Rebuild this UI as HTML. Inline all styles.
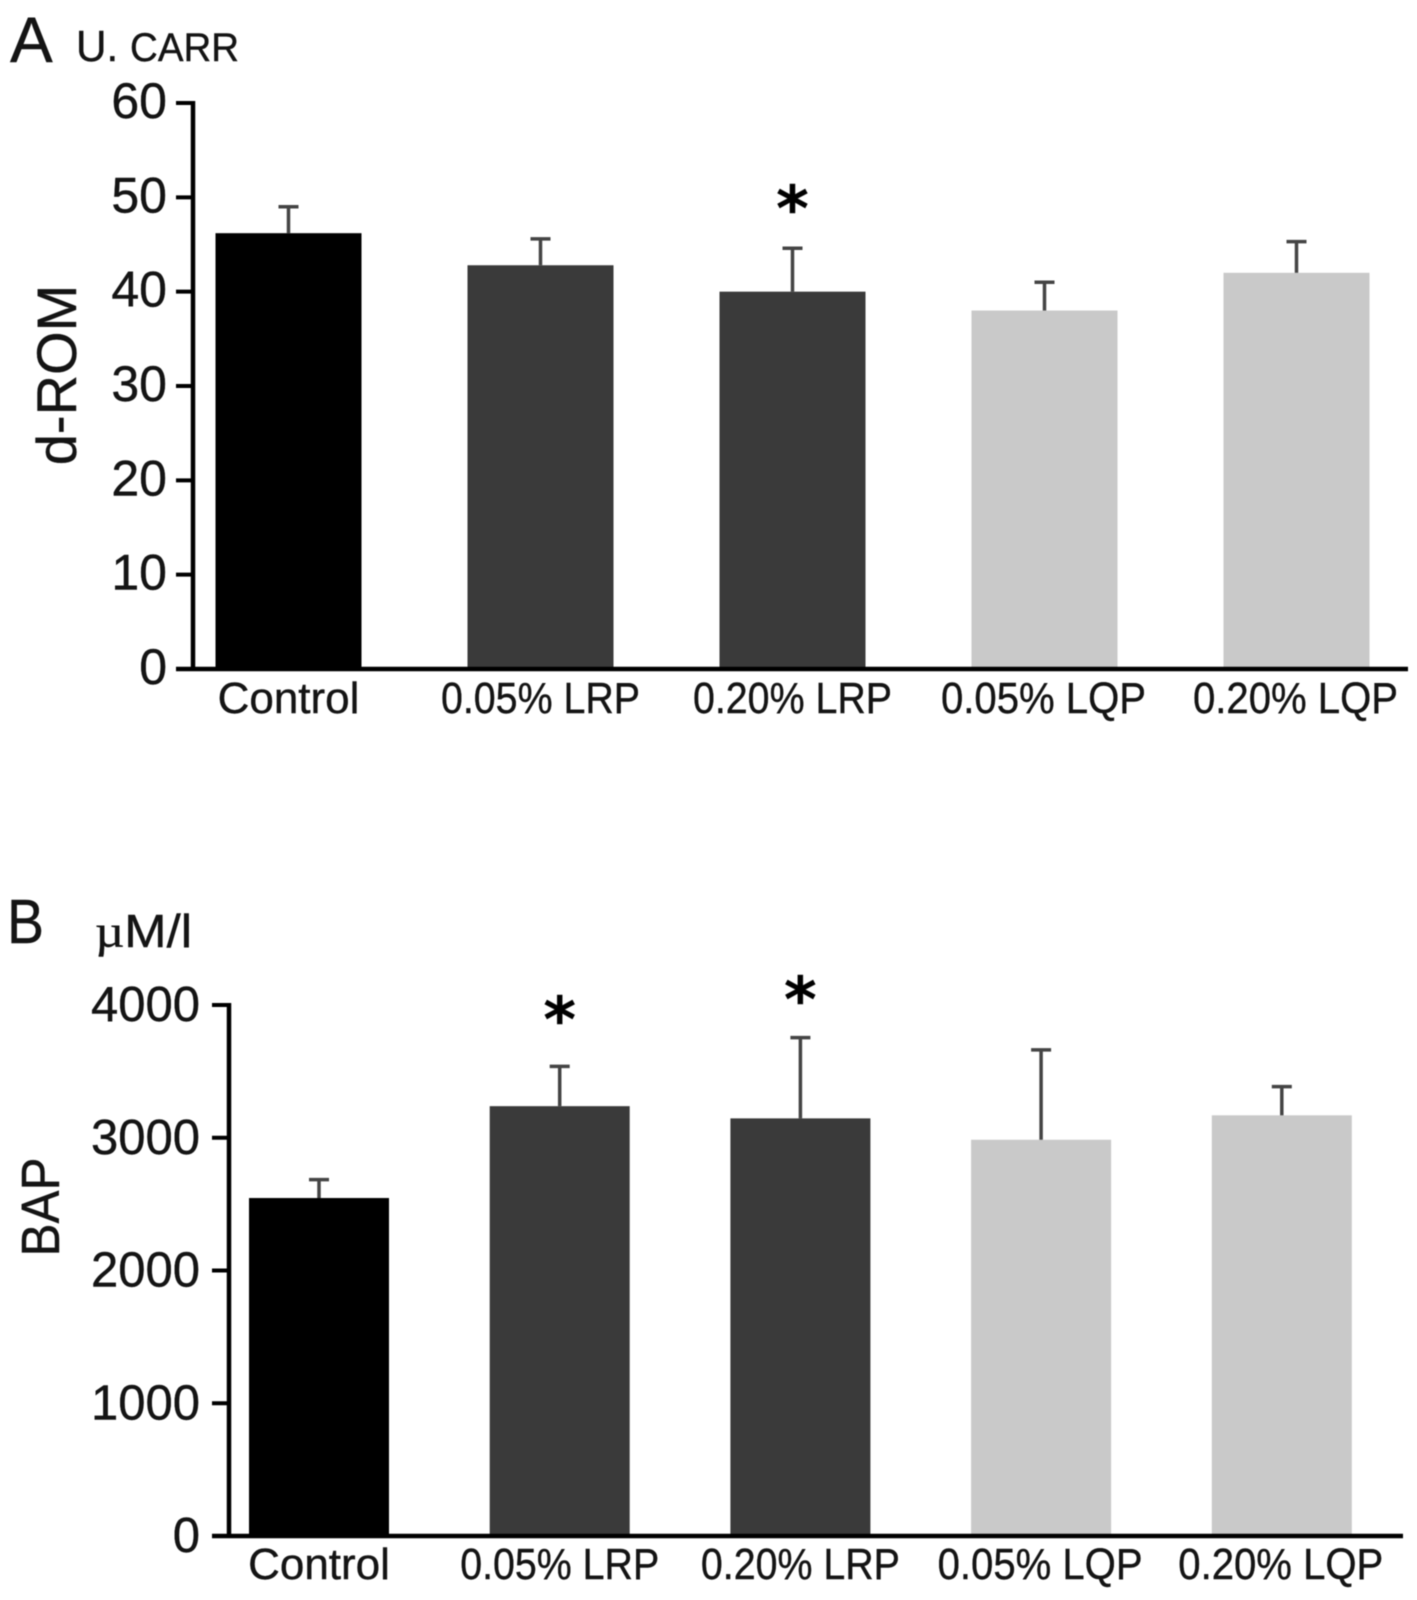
<!DOCTYPE html>
<html lang="en">
<head>
<meta charset="utf-8">
<title>d-ROM and BAP bar charts</title>
<style>
html,body{margin:0;padding:0;background:#fff;}
svg{display:block;filter:blur(0.6px);}
text{font-family:"Liberation Sans",sans-serif;fill:#141414;stroke:#141414;stroke-width:0.4px;}
</style>
</head>
<body>
<svg id="figure" xmlns="http://www.w3.org/2000/svg" width="1417" height="1600" viewBox="0 0 1417 1600">
  <rect width="1417" height="1600" fill="#fff"/>
  <text x="10" y="62" font-size="64">A</text>
  <text x="76" y="61" font-size="44" textLength="163" lengthAdjust="spacingAndGlyphs">U. <tspan font-size="40">CARR</tspan></text>
  <text transform="translate(76,375) rotate(-90)" text-anchor="middle" font-size="56">d-ROM</text>
  <text x="7" y="943" font-size="62" textLength="37" lengthAdjust="spacingAndGlyphs">B</text>
  <text x="95" y="947" font-size="46" textLength="97" lengthAdjust="spacingAndGlyphs"><tspan font-family="Liberation Serif">µ</tspan>M/l</text>
  <text transform="translate(59,1207) rotate(-90)" text-anchor="middle" font-size="54" textLength="99" lengthAdjust="spacingAndGlyphs">BAP</text>
  <g id="panel-a"></g>
  <g id="panel-b"></g>
</svg>
<script>
const categories = ['Control', '0.05% LRP', '0.20% LRP', '0.05% LQP', '0.20% LQP'];
const dromValues = [46.2, 42.8, 40, 38, 42];
const dromErrors = [2.8, 2.8, 4.6, 3, 3.3];
const dromTicks = [0, 10, 20, 30, 40, 50, 60];
const dromStars = [2];
const bapValues = [2546, 3238, 3146, 2985, 3169];
const bapErrors = [139, 300, 608, 677, 216];
const bapTicks = [0, 1000, 2000, 3000, 4000];
const bapStars = [1, 2];

const SVG_NS = 'http://www.w3.org/2000/svg';
const barColors = ['#000000', '#3a3a3a', '#3a3a3a', '#c9c9c9', '#c9c9c9'];

function make(parent, tag, attrs) {
  const node = document.createElementNS(SVG_NS, tag);
  Object.keys(attrs).forEach(function (key) { node.setAttribute(key, attrs[key]); });
  parent.appendChild(node);
  return node;
}

function drawPanel(opts) {
  const root = document.getElementById(opts.id);
  const maxTick = opts.ticks[opts.ticks.length - 1];
  const y = function (v) { return opts.baseY - (v / maxTick) * (opts.baseY - opts.topY); };
  const x = function (i) { return opts.firstX + i * opts.step; };

  opts.values.forEach(function (value, i) {
    const bar = make(root, 'rect', { x: x(i) - opts.barW / 2, y: y(value), width: opts.barW, height: opts.baseY - y(value), fill: barColors[i] });
    
    

    const top = y(value + opts.errors[i]);
    const stem = make(root, 'line', { x1: x(i), x2: x(i), y1: y(value), y2: top, stroke: '#444', 'stroke-width': 3.5 });
    
    
    const cap = make(root, 'line', { x1: x(i) - 10, x2: x(i) + 10, y1: top, y2: top, stroke: '#444', 'stroke-width': 3.5 });
    
    

    const label = make(root, 'text', { x: x(i) + opts.labelShift[i], y: opts.labelY, 'text-anchor': 'middle', 'font-size': 44 });
    label.textContent = categories[i];
    
    
    if (i > 0) {
      label.setAttribute('textLength', categories[i].indexOf('LQP') >= 0 ? 205 : 199);
      label.setAttribute('lengthAdjust', 'spacingAndGlyphs');
    }
  });

  opts.ticks.forEach(function (tick) {
    const mark = make(root, 'line', { x1: opts.tickX, x2: opts.axisX, y1: y(tick), y2: y(tick), stroke: '#000', 'stroke-width': 4 });
    
    
    const tickLabel = make(root, 'text', { x: opts.tickX - opts.tickPad, y: y(tick) + opts.tickShift, 'text-anchor': 'end', 'font-size': opts.tickSize });
    tickLabel.textContent = String(tick);
    
    
  });

  const yAxis = make(root, 'line', { x1: opts.axisX, x2: opts.axisX, y1: opts.topY - 2, y2: opts.baseY, stroke: '#000', 'stroke-width': 4.5 });
  
  
  const xAxis = make(root, 'line', { x1: opts.tickX, x2: opts.axisEnd, y1: opts.baseY, y2: opts.baseY, stroke: '#000', 'stroke-width': 4.5 });
  
  

  opts.stars.forEach(function (index, n) {
    const top = y(opts.values[index] + opts.errors[index]);
    const star = make(root, 'text', { x: x(index), y: top - opts.starGaps[n], 'text-anchor': 'middle', 'font-size': 62, 'font-weight': 'bold' });
    star.textContent = '*';
    star.style.fontFamily = '"DejaVu Sans", sans-serif';
    star.style.fill = '#000';
    
    
  });
}

drawPanel({
  id: 'panel-a', prefix: 'drom', values: dromValues, errors: dromErrors, ticks: dromTicks, stars: dromStars,
  starGaps: [18], baseY: 669, topY: 103, axisX: 193, tickX: 176, axisEnd: 1408,
  firstX: 288.5, step: 252, barW: 146, labelY: 713, labelShift: [0, 0, 0, -1, -1], tickShift: 15, tickSize: 50, tickPad: 9
});
drawPanel({
  id: 'panel-b', prefix: 'bap', values: bapValues, errors: bapErrors, ticks: bapTicks, stars: bapStars,
  starGaps: [25, 16], baseY: 1536, topY: 1005, axisX: 229, tickX: 212, axisEnd: 1403,
  firstX: 319, step: 240.7, barW: 140, labelY: 1579, labelShift: [0, 0, 0, -1, -1], tickShift: 16, tickSize: 49, tickPad: 12
});
</script>
</body>
</html>
